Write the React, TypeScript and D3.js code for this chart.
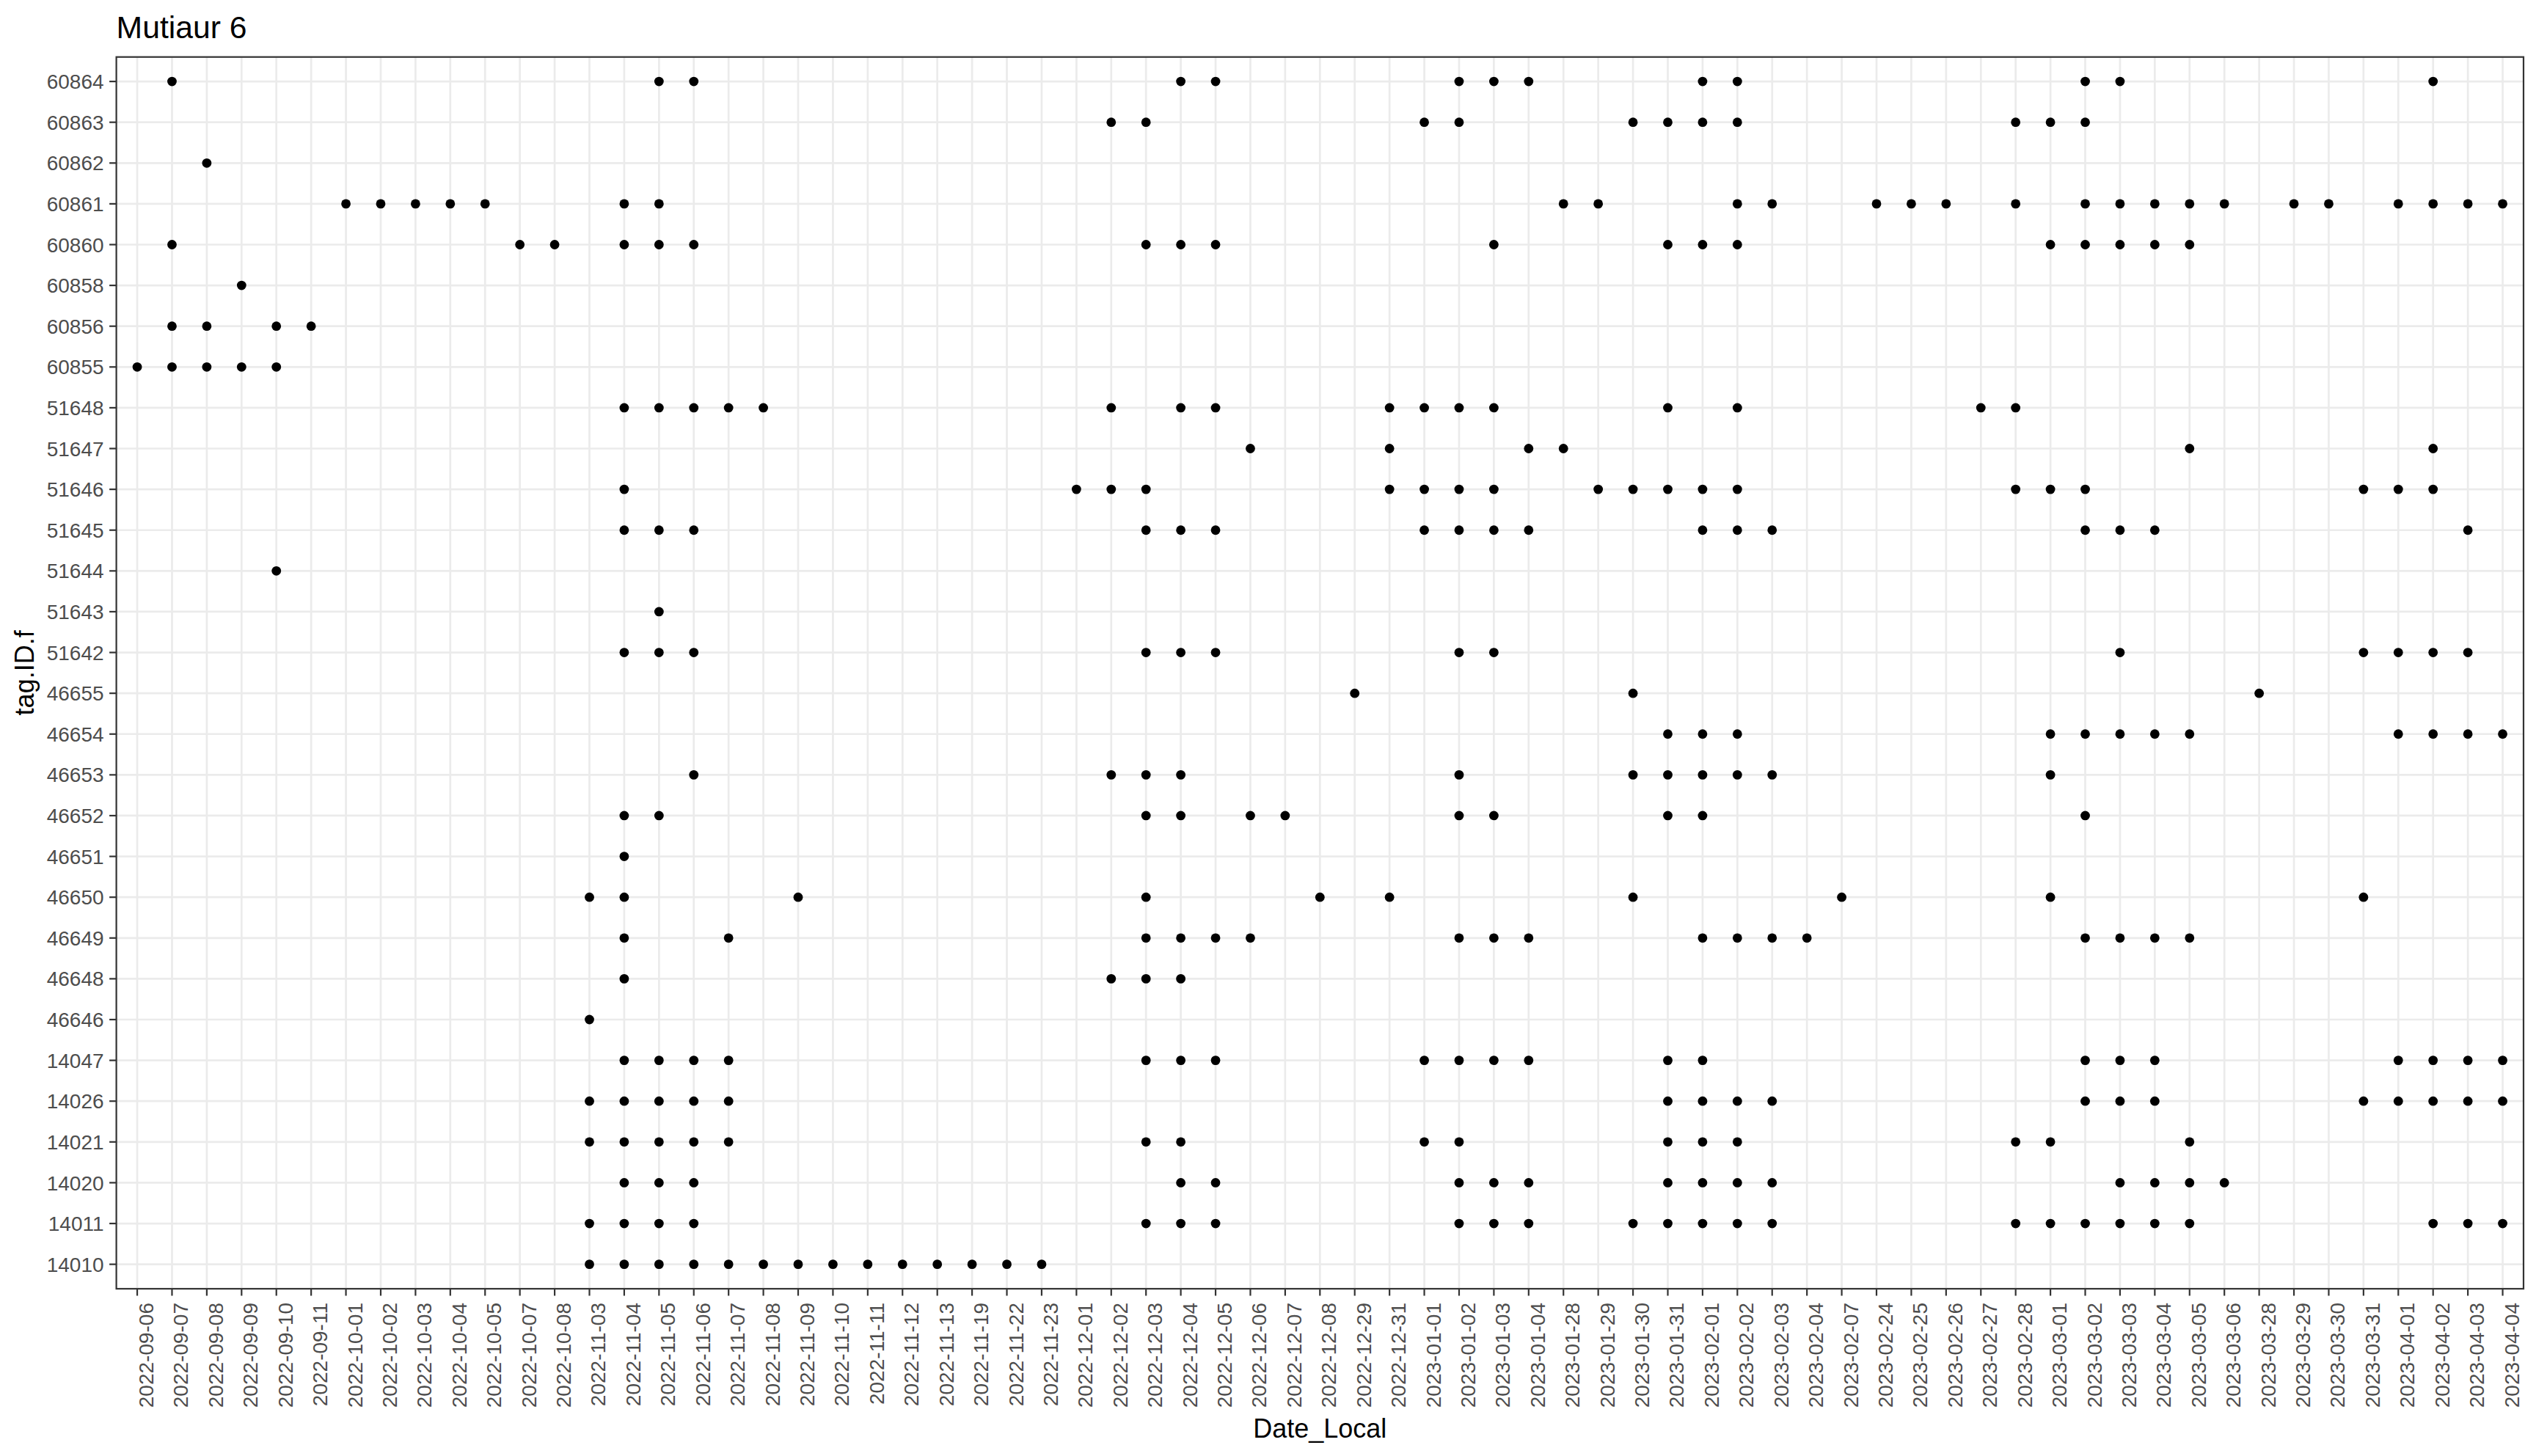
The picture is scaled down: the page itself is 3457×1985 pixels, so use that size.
import React, { useEffect } from "react";
import * as d3 from "d3";

const title = "Mutiaur 6";
const xTitle = "Date_Local";
const yTitle = "tag.ID.f";

const dates = [
  "2022-09-06","2022-09-07","2022-09-08","2022-09-09","2022-09-10","2022-09-11",
  "2022-10-01","2022-10-02","2022-10-03","2022-10-04","2022-10-05","2022-10-07","2022-10-08",
  "2022-11-03","2022-11-04","2022-11-05","2022-11-06","2022-11-07","2022-11-08","2022-11-09",
  "2022-11-10","2022-11-11","2022-11-12","2022-11-13","2022-11-19","2022-11-22","2022-11-23",
  "2022-12-01","2022-12-02","2022-12-03","2022-12-04","2022-12-05","2022-12-06","2022-12-07",
  "2022-12-08","2022-12-29","2022-12-31",
  "2023-01-01","2023-01-02","2023-01-03","2023-01-04","2023-01-28","2023-01-29","2023-01-30","2023-01-31",
  "2023-02-01","2023-02-02","2023-02-03","2023-02-04","2023-02-07","2023-02-24","2023-02-25",
  "2023-02-26","2023-02-27","2023-02-28",
  "2023-03-01","2023-03-02","2023-03-03","2023-03-04","2023-03-05","2023-03-06","2023-03-28",
  "2023-03-29","2023-03-30","2023-03-31",
  "2023-04-01","2023-04-02","2023-04-03","2023-04-04",
];

const tags = [
  "60864","60863","60862","60861","60860","60858","60856","60855",
  "51648","51647","51646","51645","51644","51643","51642",
  "46655","46654","46653","46652","46651","46650","46649","46648","46646",
  "14047","14026","14021","14020","14011","14010",
];

const tag60864 = ["2022-09-07","2022-11-05","2022-11-06","2022-12-04","2022-12-05","2023-01-02","2023-01-03","2023-01-04","2023-02-01","2023-02-02","2023-03-02","2023-03-03","2023-04-02"];
const tag60863 = ["2022-12-02","2022-12-03","2023-01-01","2023-01-02","2023-01-30","2023-01-31","2023-02-01","2023-02-02","2023-02-28","2023-03-01","2023-03-02"];
const tag60862 = ["2022-09-08"];
const tag60861 = ["2022-10-01","2022-10-02","2022-10-03","2022-10-04","2022-10-05","2022-11-04","2022-11-05","2023-01-28","2023-01-29","2023-02-02","2023-02-03","2023-02-24","2023-02-25","2023-02-26","2023-02-28","2023-03-02","2023-03-03","2023-03-04","2023-03-05","2023-03-06","2023-03-29","2023-03-30","2023-04-01","2023-04-02","2023-04-03","2023-04-04"];
const tag60860 = ["2022-09-07","2022-10-07","2022-10-08","2022-11-04","2022-11-05","2022-11-06","2022-12-03","2022-12-04","2022-12-05","2023-01-03","2023-01-31","2023-02-01","2023-02-02","2023-03-01","2023-03-02","2023-03-03","2023-03-04","2023-03-05"];
const tag60858 = ["2022-09-09"];
const tag60856 = ["2022-09-07","2022-09-08","2022-09-10","2022-09-11"];
const tag60855 = ["2022-09-06","2022-09-07","2022-09-08","2022-09-09","2022-09-10"];
const tag51648 = ["2022-11-04","2022-11-05","2022-11-06","2022-11-07","2022-11-08","2022-12-02","2022-12-04","2022-12-05","2022-12-31","2023-01-01","2023-01-02","2023-01-03","2023-01-31","2023-02-02","2023-02-27","2023-02-28"];
const tag51647 = ["2022-12-06","2022-12-31","2023-01-04","2023-01-28","2023-03-05","2023-04-02"];
const tag51646 = ["2022-11-04","2022-12-01","2022-12-02","2022-12-03","2022-12-31","2023-01-01","2023-01-02","2023-01-03","2023-01-29","2023-01-30","2023-01-31","2023-02-01","2023-02-02","2023-02-28","2023-03-01","2023-03-02","2023-03-31","2023-04-01","2023-04-02"];
const tag51645 = ["2022-11-04","2022-11-05","2022-11-06","2022-12-03","2022-12-04","2022-12-05","2023-01-01","2023-01-02","2023-01-03","2023-01-04","2023-02-01","2023-02-02","2023-02-03","2023-03-02","2023-03-03","2023-03-04","2023-04-03"];
const tag51644 = ["2022-09-10"];
const tag51643 = ["2022-11-05"];
const tag51642 = ["2022-11-04","2022-11-05","2022-11-06","2022-12-03","2022-12-04","2022-12-05","2023-01-02","2023-01-03","2023-03-03","2023-03-31","2023-04-01","2023-04-02","2023-04-03"];
const tag46655 = ["2022-12-29","2023-01-30","2023-03-28"];
const tag46654 = ["2023-01-31","2023-02-01","2023-02-02","2023-03-01","2023-03-02","2023-03-03","2023-03-04","2023-03-05","2023-04-01","2023-04-02","2023-04-03","2023-04-04"];
const tag46653 = ["2022-11-06","2022-12-02","2022-12-03","2022-12-04","2023-01-02","2023-01-30","2023-01-31","2023-02-01","2023-02-02","2023-02-03","2023-03-01"];
const tag46652 = ["2022-11-04","2022-11-05","2022-12-03","2022-12-04","2022-12-06","2022-12-07","2023-01-02","2023-01-03","2023-01-31","2023-02-01","2023-03-02"];
const tag46651 = ["2022-11-04"];
const tag46650 = ["2022-11-03","2022-11-04","2022-11-09","2022-12-03","2022-12-08","2022-12-31","2023-01-30","2023-02-07","2023-03-01","2023-03-31"];
const tag46649 = ["2022-11-04","2022-11-07","2022-12-03","2022-12-04","2022-12-05","2022-12-06","2023-01-02","2023-01-03","2023-01-04","2023-02-01","2023-02-02","2023-02-03","2023-02-04","2023-03-02","2023-03-03","2023-03-04","2023-03-05"];
const tag46648 = ["2022-11-04","2022-12-02","2022-12-03","2022-12-04"];
const tag46646 = ["2022-11-03"];
const tag14047 = ["2022-11-04","2022-11-05","2022-11-06","2022-11-07","2022-12-03","2022-12-04","2022-12-05","2023-01-01","2023-01-02","2023-01-03","2023-01-04","2023-01-31","2023-02-01","2023-03-02","2023-03-03","2023-03-04","2023-04-01","2023-04-02","2023-04-03","2023-04-04"];
const tag14026 = ["2022-11-03","2022-11-04","2022-11-05","2022-11-06","2022-11-07","2023-01-31","2023-02-01","2023-02-02","2023-02-03","2023-03-02","2023-03-03","2023-03-04","2023-03-31","2023-04-01","2023-04-02","2023-04-03","2023-04-04"];
const tag14021 = ["2022-11-03","2022-11-04","2022-11-05","2022-11-06","2022-11-07","2022-12-03","2022-12-04","2023-01-01","2023-01-02","2023-01-31","2023-02-01","2023-02-02","2023-02-28","2023-03-01","2023-03-05"];
const tag14020 = ["2022-11-04","2022-11-05","2022-11-06","2022-12-04","2022-12-05","2023-01-02","2023-01-03","2023-01-04","2023-01-31","2023-02-01","2023-02-02","2023-02-03","2023-03-03","2023-03-04","2023-03-05","2023-03-06"];
const tag14011 = ["2022-11-03","2022-11-04","2022-11-05","2022-11-06","2022-12-03","2022-12-04","2022-12-05","2023-01-02","2023-01-03","2023-01-04","2023-01-30","2023-01-31","2023-02-01","2023-02-02","2023-02-03","2023-02-28","2023-03-01","2023-03-02","2023-03-03","2023-03-04","2023-03-05","2023-04-02","2023-04-03","2023-04-04"];
const tag14010 = ["2022-11-03","2022-11-04","2022-11-05","2022-11-06","2022-11-07","2022-11-08","2022-11-09","2022-11-10","2022-11-11","2022-11-12","2022-11-13","2022-11-19","2022-11-22","2022-11-23"];

const detectionsByTag: Record<string, string[]> = {
  "60864": tag60864, "60863": tag60863, "60862": tag60862, "60861": tag60861,
  "60860": tag60860, "60858": tag60858, "60856": tag60856, "60855": tag60855,
  "51648": tag51648, "51647": tag51647, "51646": tag51646, "51645": tag51645,
  "51644": tag51644, "51643": tag51643, "51642": tag51642,
  "46655": tag46655, "46654": tag46654, "46653": tag46653, "46652": tag46652,
  "46651": tag46651, "46650": tag46650, "46649": tag46649, "46648": tag46648,
  "46646": tag46646, "14047": tag14047, "14026": tag14026, "14021": tag14021,
  "14020": tag14020, "14011": tag14011, "14010": tag14010,
};

const W = 3457;
const H = 1985;
const PL = 158.6, PR = 3440, PT = 77.7, PB = 1757;
const FONT = "'Liberation Sans', Arial, Helvetica, sans-serif";

export default function App() {
  useEffect(() => {
    document.body.style.margin = "0";
  }, []);

  const x = d3.scalePoint<string>().domain(dates).range([PL, PR]).padding(0.6);
  const y = d3.scalePoint<string>().domain(tags).range([PT, PB]).padding(0.6);

  const points: { tag: string; date: string }[] = [];
  tags.forEach((t) => {
    (detectionsByTag[t] || []).forEach((d) => points.push({ tag: t, date: d }));
  });

  return (
    <svg
      width={W}
      height={H}
      viewBox={`0 0 ${W} ${H}`}
      style={{ position: "absolute", left: 0, top: 0, background: "#fff" }}
      fontFamily={FONT}
    >
      <rect x={0} y={0} width={W} height={H} fill="#fff" />
      {/* grid */}
      <g stroke="#EBEBEB" strokeWidth={2.7}>
        {dates.map((d) => (
          <line key={"gx" + d} x1={x(d)} x2={x(d)} y1={PT} y2={PB} />
        ))}
        {tags.map((t) => (
          <line key={"gy" + t} x1={PL} x2={PR} y1={y(t)} y2={y(t)} />
        ))}
      </g>
      {/* points */}
      <g fill="#000">
        {points.map((p, i) => (
          <circle key={i} cx={x(p.date)} cy={y(p.tag)} r={6.4} />
        ))}
      </g>
      {/* panel border */}
      <rect x={PL} y={PT} width={PR - PL} height={PB - PT} fill="none" stroke="#333333" strokeWidth={2.2} />
      {/* y axis ticks & labels */}
      <g>
        {tags.map((t) => (
          <g key={"yt" + t}>
            <line x1={PL - 9.5} x2={PL} y1={y(t)} y2={y(t)} stroke="#333333" strokeWidth={2.2} />
            <text
              x={PL - 17}
              y={y(t)}
              dy="0.36em"
              textAnchor="end"
              fontSize={28}
              fill="#4D4D4D"
            >
              {t}
            </text>
          </g>
        ))}
      </g>
      {/* x axis ticks & labels */}
      <g>
        {dates.map((d) => (
          <g key={"xt" + d}>
            <line x1={x(d)} x2={x(d)} y1={PB} y2={PB + 9.5} stroke="#333333" strokeWidth={2.2} />
            <text
              transform={`translate(${(x(d) as number) + 22},${PB + 19}) rotate(-90)`}
              textAnchor="end"
              fontSize={28}
              fill="#4D4D4D"
            >
              {d}
            </text>
          </g>
        ))}
      </g>
      {/* titles */}
      <text x={PL} y={52} fontSize={42.7} fill="#000">
        {title}
      </text>
      <text x={(PL + PR) / 2} y={1960} textAnchor="middle" fontSize={36} fill="#000">
        {xTitle}
      </text>
      <text
        transform={`translate(46,${(PT + PB) / 2}) rotate(-90)`}
        textAnchor="middle"
        fontSize={36}
        fill="#000"
      >
        {yTitle}
      </text>
    </svg>
  );
}
